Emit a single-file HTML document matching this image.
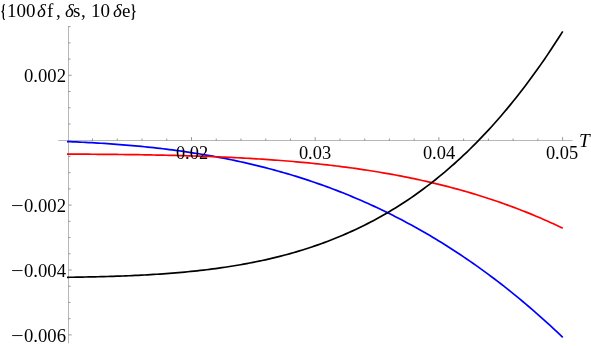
<!DOCTYPE html>
<html><head><meta charset="utf-8"><style>
html,body{margin:0;padding:0;background:#fff}
body{width:591px;height:346px;position:relative;overflow:hidden;font-family:"Liberation Serif",serif}
.l{position:absolute;font-size:18.7px;line-height:20px;height:20px;color:#000;white-space:nowrap;will-change:transform}
.t{font-size:19px}
.m{display:inline-block;transform:scaleX(1.2);transform-origin:100% 50%}
</style></head><body>
<svg width="591" height="346" viewBox="0 0 591 346" style="position:absolute;left:0;top:0"><path d="M58.2 140.50 H572.5 M68.5 26 V343.4" fill="none" stroke="#6e6e6e" stroke-width="0.5"/>
<path d="M92.54 140.50 v-2.0 M117.28 140.50 v-2.0 M142.02 140.50 v-2.0 M166.76 140.50 v-2.0 M191.50 140.50 v-3.4 M216.24 140.50 v-2.0 M240.98 140.50 v-2.0 M265.72 140.50 v-2.0 M290.46 140.50 v-2.0 M315.20 140.50 v-3.4 M339.94 140.50 v-2.0 M364.68 140.50 v-2.0 M389.42 140.50 v-2.0 M414.16 140.50 v-2.0 M438.90 140.50 v-3.4 M463.64 140.50 v-2.0 M488.38 140.50 v-2.0 M513.12 140.50 v-2.0 M537.86 140.50 v-2.0 M562.60 140.50 v-3.4 M68.5 334.90 h3.2 M68.5 318.68 h2.0 M68.5 302.45 h2.0 M68.5 286.22 h2.0 M68.5 270.00 h3.2 M68.5 253.77 h2.0 M68.5 237.55 h2.0 M68.5 221.32 h2.0 M68.5 205.10 h3.2 M68.5 188.88 h2.0 M68.5 172.65 h2.0 M68.5 156.42 h2.0 M68.5 123.98 h2.0 M68.5 107.75 h2.0 M68.5 91.52 h2.0 M68.5 75.30 h3.2 M68.5 59.08 h2.0 M68.5 42.85 h2.0 M68.5 26.62 h2.0" fill="none" stroke="#6e6e6e" stroke-width="0.7"/>
<path d="M67.00 141.57 L70.10 141.69 L73.20 141.82 L76.30 141.95 L79.39 142.09 L82.49 142.24 L85.59 142.39 L88.69 142.55 L91.79 142.71 L94.89 142.88 L97.98 143.06 L101.08 143.25 L104.18 143.44 L107.28 143.65 L110.38 143.86 L113.48 144.08 L116.58 144.30 L119.67 144.54 L122.77 144.78 L125.87 145.03 L128.97 145.29 L132.07 145.56 L135.17 145.84 L138.26 146.13 L141.36 146.42 L144.46 146.73 L147.56 147.05 L150.66 147.37 L153.76 147.71 L156.85 148.05 L159.95 148.41 L163.05 148.77 L166.15 149.15 L169.25 149.54 L172.35 149.94 L175.45 150.34 L178.54 150.76 L181.64 151.20 L184.74 151.64 L187.84 152.09 L190.94 152.56 L194.04 153.04 L197.13 153.53 L200.23 154.03 L203.33 154.54 L206.43 155.07 L209.53 155.61 L212.63 156.16 L215.73 156.73 L218.82 157.31 L221.92 157.90 L225.02 158.50 L228.12 159.12 L231.22 159.75 L234.32 160.40 L237.41 161.06 L240.51 161.73 L243.61 162.42 L246.71 163.12 L249.81 163.84 L252.91 164.57 L256.00 165.31 L259.10 166.07 L262.20 166.85 L265.30 167.64 L268.40 168.45 L271.50 169.27 L274.60 170.11 L277.69 170.96 L280.79 171.83 L283.89 172.72 L286.99 173.62 L290.09 174.54 L293.19 175.48 L296.28 176.43 L299.38 177.40 L302.48 178.39 L305.58 179.39 L308.68 180.41 L311.78 181.45 L314.88 182.50 L317.97 183.58 L321.07 184.67 L324.17 185.78 L327.27 186.91 L330.37 188.05 L333.47 189.22 L336.56 190.40 L339.66 191.61 L342.76 192.83 L345.86 194.07 L348.96 195.33 L352.06 196.61 L355.15 197.91 L358.25 199.23 L361.35 200.56 L364.45 201.92 L367.55 203.30 L370.65 204.70 L373.75 206.12 L376.84 207.56 L379.94 209.02 L383.04 210.50 L386.14 212.01 L389.24 213.53 L392.34 215.08 L395.43 216.64 L398.53 218.23 L401.63 219.84 L404.73 221.48 L407.83 223.13 L410.93 224.81 L414.03 226.51 L417.12 228.23 L420.22 229.97 L423.32 231.74 L426.42 233.53 L429.52 235.34 L432.62 237.18 L435.71 239.04 L438.81 240.93 L441.91 242.83 L445.01 244.77 L448.11 246.72 L451.21 248.70 L454.30 250.71 L457.40 252.73 L460.50 254.79 L463.60 256.87 L466.70 258.97 L469.80 261.10 L472.90 263.25 L475.99 265.43 L479.09 267.63 L482.19 269.86 L485.29 272.12 L488.39 274.40 L491.49 276.71 L494.58 279.04 L497.68 281.40 L500.78 283.79 L503.88 286.20 L506.98 288.65 L510.08 291.11 L513.18 293.61 L516.27 296.13 L519.37 298.68 L522.47 301.26 L525.57 303.86 L528.67 306.50 L531.77 309.16 L534.86 311.85 L537.96 314.56 L541.06 317.31 L544.16 320.08 L547.26 322.89 L550.36 325.72 L553.45 328.58 L556.55 331.47 L559.65 334.39 L562.75 337.34" fill="none" stroke="#0000ff" stroke-width="1.7"/>
<path d="M67.00 154.11 L70.10 154.13 L73.20 154.14 L76.30 154.15 L79.39 154.17 L82.49 154.18 L85.59 154.20 L88.69 154.22 L91.79 154.24 L94.89 154.26 L97.98 154.28 L101.08 154.31 L104.18 154.33 L107.28 154.36 L110.38 154.39 L113.48 154.42 L116.58 154.45 L119.67 154.48 L122.77 154.52 L125.87 154.55 L128.97 154.59 L132.07 154.63 L135.17 154.67 L138.26 154.72 L141.36 154.77 L144.46 154.82 L147.56 154.87 L150.66 154.92 L153.76 154.98 L156.85 155.04 L159.95 155.10 L163.05 155.16 L166.15 155.23 L169.25 155.30 L172.35 155.37 L175.45 155.45 L178.54 155.53 L181.64 155.61 L184.74 155.70 L187.84 155.79 L190.94 155.88 L194.04 155.98 L197.13 156.08 L200.23 156.18 L203.33 156.29 L206.43 156.40 L209.53 156.51 L212.63 156.63 L215.73 156.76 L218.82 156.88 L221.92 157.02 L225.02 157.15 L228.12 157.29 L231.22 157.44 L234.32 157.59 L237.41 157.75 L240.51 157.91 L243.61 158.07 L246.71 158.25 L249.81 158.42 L252.91 158.60 L256.00 158.79 L259.10 158.99 L262.20 159.18 L265.30 159.39 L268.40 159.60 L271.50 159.82 L274.60 160.04 L277.69 160.27 L280.79 160.51 L283.89 160.75 L286.99 161.00 L290.09 161.26 L293.19 161.52 L296.28 161.79 L299.38 162.07 L302.48 162.35 L305.58 162.65 L308.68 162.95 L311.78 163.25 L314.88 163.57 L317.97 163.89 L321.07 164.23 L324.17 164.57 L327.27 164.92 L330.37 165.27 L333.47 165.64 L336.56 166.01 L339.66 166.40 L342.76 166.79 L345.86 167.19 L348.96 167.60 L352.06 168.03 L355.15 168.46 L358.25 168.90 L361.35 169.35 L364.45 169.81 L367.55 170.28 L370.65 170.76 L373.75 171.26 L376.84 171.76 L379.94 172.27 L383.04 172.80 L386.14 173.33 L389.24 173.88 L392.34 174.44 L395.43 175.01 L398.53 175.60 L401.63 176.19 L404.73 176.80 L407.83 177.42 L410.93 178.05 L414.03 178.69 L417.12 179.35 L420.22 180.02 L423.32 180.71 L426.42 181.40 L429.52 182.12 L432.62 182.84 L435.71 183.58 L438.81 184.33 L441.91 185.10 L445.01 185.88 L448.11 186.68 L451.21 187.49 L454.30 188.31 L457.40 189.16 L460.50 190.01 L463.60 190.88 L466.70 191.77 L469.80 192.68 L472.90 193.60 L475.99 194.53 L479.09 195.48 L482.19 196.45 L485.29 197.44 L488.39 198.44 L491.49 199.46 L494.58 200.50 L497.68 201.56 L500.78 202.63 L503.88 203.72 L506.98 204.83 L510.08 205.96 L513.18 207.11 L516.27 208.28 L519.37 209.46 L522.47 210.67 L525.57 211.89 L528.67 213.13 L531.77 214.40 L534.86 215.68 L537.96 216.99 L541.06 218.31 L544.16 219.66 L547.26 221.02 L550.36 222.41 L553.45 223.82 L556.55 225.25 L559.65 226.70 L562.75 228.18" fill="none" stroke="#ff0000" stroke-width="1.7"/>
<path d="M67.00 277.31 L70.10 277.27 L73.20 277.23 L76.30 277.18 L79.39 277.14 L82.49 277.08 L85.59 277.02 L88.69 276.96 L91.79 276.90 L94.89 276.83 L97.98 276.76 L101.08 276.68 L104.18 276.59 L107.28 276.51 L110.38 276.41 L113.48 276.31 L116.58 276.21 L119.67 276.10 L122.77 275.98 L125.87 275.86 L128.97 275.73 L132.07 275.60 L135.17 275.46 L138.26 275.31 L141.36 275.15 L144.46 274.99 L147.56 274.82 L150.66 274.64 L153.76 274.45 L156.85 274.25 L159.95 274.05 L163.05 273.83 L166.15 273.61 L169.25 273.38 L172.35 273.13 L175.45 272.88 L178.54 272.62 L181.64 272.34 L184.74 272.06 L187.84 271.76 L190.94 271.46 L194.04 271.14 L197.13 270.80 L200.23 270.46 L203.33 270.10 L206.43 269.73 L209.53 269.35 L212.63 268.95 L215.73 268.54 L218.82 268.12 L221.92 267.68 L225.02 267.22 L228.12 266.75 L231.22 266.27 L234.32 265.77 L237.41 265.25 L240.51 264.72 L243.61 264.16 L246.71 263.60 L249.81 263.01 L252.91 262.40 L256.00 261.78 L259.10 261.14 L262.20 260.48 L265.30 259.80 L268.40 259.10 L271.50 258.38 L274.60 257.63 L277.69 256.87 L280.79 256.09 L283.89 255.28 L286.99 254.45 L290.09 253.60 L293.19 252.72 L296.28 251.83 L299.38 250.90 L302.48 249.96 L305.58 248.98 L308.68 247.99 L311.78 246.96 L314.88 245.91 L317.97 244.84 L321.07 243.74 L324.17 242.60 L327.27 241.45 L330.37 240.26 L333.47 239.04 L336.56 237.80 L339.66 236.52 L342.76 235.22 L345.86 233.88 L348.96 232.51 L352.06 231.12 L355.15 229.68 L358.25 228.22 L361.35 226.72 L364.45 225.19 L367.55 223.63 L370.65 222.03 L373.75 220.39 L376.84 218.72 L379.94 217.01 L383.04 215.27 L386.14 213.49 L389.24 211.67 L392.34 209.81 L395.43 207.91 L398.53 205.98 L401.63 204.00 L404.73 201.98 L407.83 199.93 L410.93 197.83 L414.03 195.68 L417.12 193.50 L420.22 191.27 L423.32 189.00 L426.42 186.68 L429.52 184.32 L432.62 181.92 L435.71 179.46 L438.81 176.96 L441.91 174.41 L445.01 171.82 L448.11 169.17 L451.21 166.48 L454.30 163.74 L457.40 160.94 L460.50 158.10 L463.60 155.20 L466.70 152.26 L469.80 149.25 L472.90 146.20 L475.99 143.09 L479.09 139.93 L482.19 136.71 L485.29 133.43 L488.39 130.10 L491.49 126.71 L494.58 123.26 L497.68 119.75 L500.78 116.19 L503.88 112.56 L506.98 108.87 L510.08 105.13 L513.18 101.32 L516.27 97.44 L519.37 93.51 L522.47 89.51 L525.57 85.44 L528.67 81.31 L531.77 77.11 L534.86 72.85 L537.96 68.52 L541.06 64.12 L544.16 59.65 L547.26 55.11 L550.36 50.50 L553.45 45.82 L556.55 41.07 L559.65 36.25 L562.75 31.35" fill="none" stroke="#000000" stroke-width="1.7"/></svg>
<div class="l" style="left:191.7px;top:143.1px;width:60px;margin-left:-30px;text-align:center;font-size:18.4px">0.02</div>
<div class="l" style="left:315.4px;top:143.1px;width:60px;margin-left:-30px;text-align:center;font-size:18.4px">0.03</div>
<div class="l" style="left:438.6px;top:143.1px;width:60px;margin-left:-30px;text-align:center;font-size:18.4px">0.04</div>
<div class="l" style="left:561.5px;top:143.1px;width:60px;margin-left:-30px;text-align:center;font-size:18.4px">0.05</div>
<div class="l" style="left:0;width:66px;text-align:right;top:65.9px">0.002</div>
<div class="l" style="left:0;width:66px;text-align:right;top:195.7px"><span class="m">&minus;</span>0.002</div>
<div class="l" style="left:0;width:66px;text-align:right;top:260.6px"><span class="m">&minus;</span>0.004</div>
<div class="l" style="left:0;width:66px;text-align:right;top:325.5px"><span class="m">&minus;</span>0.006</div>
<div class="l" style="left:578.8px;top:131.1px;font-size:19.3px"><i>T</i></div>
<div class="l t" style="left:0.8px;top:0.6px;font-weight:bold;transform:scale(0.6,0.98);transform-origin:0 60%">{</div>
<div class="l t" style="left:6.5px;top:0.6px;">100</div>
<div class="l t" style="left:37.0px;top:0.6px;"><i>&delta;</i></div>
<div class="l t" style="left:46.6px;top:0.6px;">f</div>
<div class="l t" style="left:55.8px;top:0.6px;">,</div>
<div class="l t" style="left:64.9px;top:0.6px;"><i>&delta;</i></div>
<div class="l t" style="left:73.0px;top:0.6px;">s</div>
<div class="l t" style="left:80.8px;top:0.6px;">,</div>
<div class="l t" style="left:91.3px;top:0.6px;">10</div>
<div class="l t" style="left:113.1px;top:0.6px;"><i>&delta;</i></div>
<div class="l t" style="left:121.9px;top:0.6px;">e</div>
<div class="l t" style="left:131.3px;top:0.6px;font-weight:bold;transform:scale(0.65,0.98);transform-origin:0 60%">}</div>
</body></html>
